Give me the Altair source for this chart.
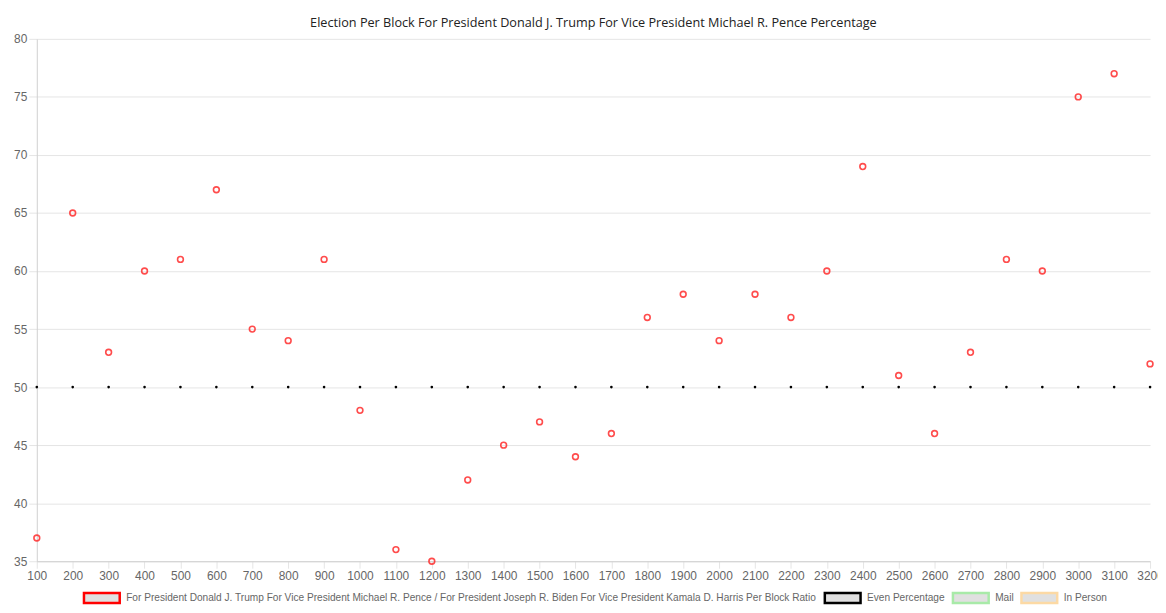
import altair as alt
import pandas as pd

blocks = [100, 200, 300, 400, 500, 600, 700, 800, 900, 1000, 1100, 1200, 1300, 1400, 1500, 1600,
          1700, 1800, 1900, 2000, 2100, 2200, 2300, 2400, 2500, 2600, 2700, 2800, 2900, 3000, 3100, 3200]
ratio = [37, 65, 53, 60, 61, 67, 55, 54, 61, 48, 36, 35, 42, 45, 47, 44,
         46, 56, 58, 54, 58, 56, 60, 69, 51, 46, 53, 61, 60, 75, 77, 52]
even = [50] * len(blocks)

s_ratio = ("For President Donald J. Trump For Vice President Michael R. Pence / "
           "For President Joseph R. Biden For Vice President Kamala D. Harris Per Block Ratio")
s_even = "Even Percentage"
s_mail = "Mail"
s_person = "In Person"
series = [s_ratio, s_even, s_mail, s_person]
colors = ["#ff0000", "#000000", "#a8eaa8", "#fcd9a4"]

title = "Election Per Block For President Donald J. Trump For Vice President Michael R. Pence Percentage"

df_ratio = pd.DataFrame({"block": [str(b) for b in blocks], "value": ratio})
df_even = pd.DataFrame({"block": [str(b) for b in blocks], "value": even})
df_legend = pd.DataFrame({"series": pd.Series([], dtype="object")})

W, H = 1121, 526
order = [str(b) for b in blocks]

x = alt.X("block:O", sort=order, title=None,
          scale=alt.Scale(type="point", padding=0),
          axis=alt.Axis(labelAngle=0, tickSize=7, labelPadding=2))
y = alt.Y("value:Q", title=None,
          scale=alt.Scale(domain=[35, 80], nice=False, zero=False),
          axis=alt.Axis(values=[35, 40, 45, 50, 55, 60, 65, 70, 75, 80], tickSize=8, labelPadding=2))

legend_props = dict(title=None, orient="none", direction="horizontal",
                    legendX=46, legendY=556,
                    columns=4, columnPadding=2,
                    symbolType="M-1,-0.9H5.545V0.9H-1Z", symbolSize=121,
                    symbolStrokeWidth=2.5, symbolOpacity=1,
                    labelOffset=30, labelLimit=1000, labelFontSize=10.2,
                    labelColor="#666666", labelFont="Liberation Sans",
                    padding=0)

legend_layer = alt.Chart(df_legend).mark_point(
    filled=True, shape="square", strokeWidth=2.5, opacity=1
).encode(
    fill=alt.Fill("series:N", scale=alt.Scale(domain=series, range=["#e0e0e0"] * 4),
                  legend=alt.Legend(**legend_props)),
    stroke=alt.Stroke("series:N", scale=alt.Scale(domain=series, range=colors),
                      legend=alt.Legend(**legend_props)),
)

red = alt.Chart(df_ratio).mark_point(filled=False, size=34, strokeWidth=1.6, shape="circle",
                                     stroke="#ff2020", opacity=0.8).encode(x=x, y=y)
black = alt.Chart(df_even).mark_point(filled=True, size=7, shape="circle", fill="#000000",
                                      opacity=1).encode(x=x, y=y)

chart = alt.layer(red, black, legend_layer).properties(
    width=W, height=H,
    title=alt.TitleParams(title, fontSize=12.75, font="Open Sans", fontWeight="normal",
                          color="#222222", offset=3, anchor="middle"),
    padding={"left": 29, "top": 29, "right": 8, "bottom": 42},
    autosize=alt.AutoSizeParams(type="none"),
).configure_axis(
    gridColor="#e5e5e5", domainColor="#d0d0d0", tickColor="#e5e5e5",
    labelColor="#666666", labelFontSize=12, labelFont="Liberation Sans",
).configure_view(stroke=None)

chart.save("out.html", embed_options={"renderer": "svg", "actions": False})
